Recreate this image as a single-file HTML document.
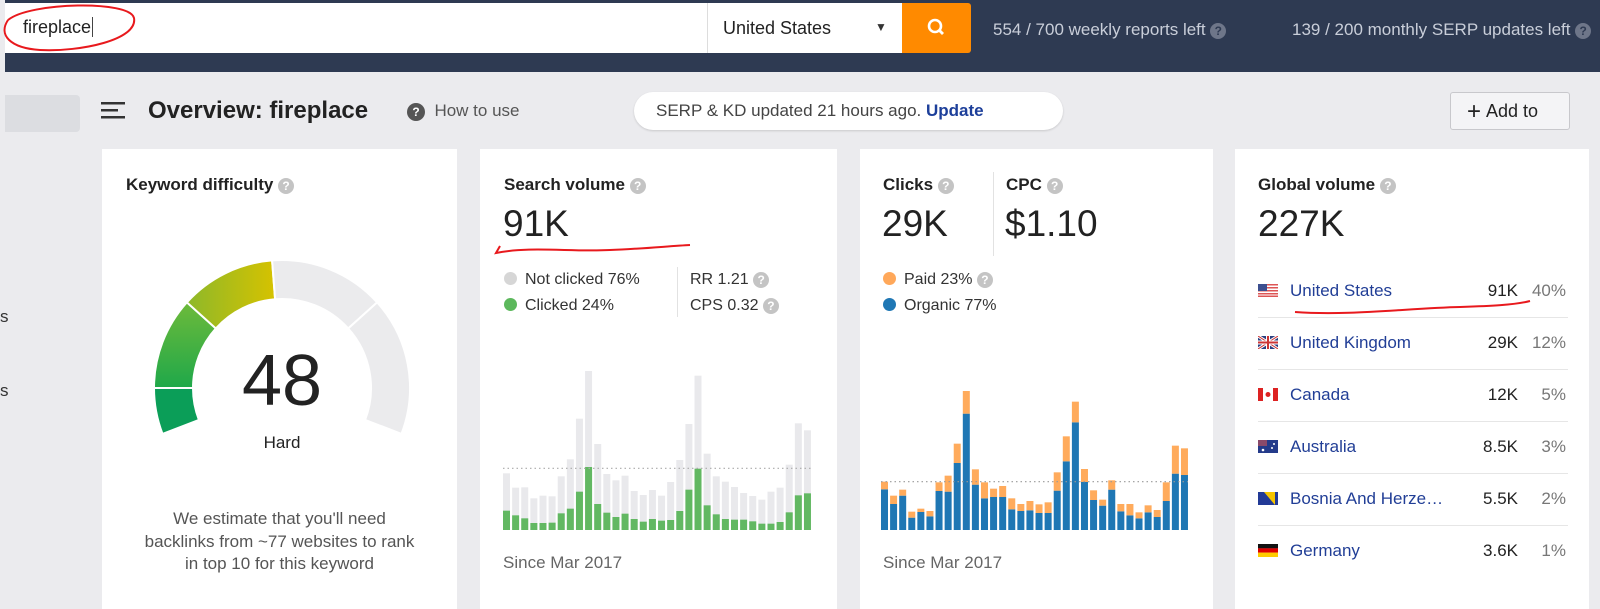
<!DOCTYPE html>
<html><head><meta charset="utf-8"><style>
*{margin:0;padding:0;box-sizing:border-box}
body{width:1600px;height:593px;overflow:hidden;background:#ebebee;font-family:"Liberation Sans",Arial,sans-serif;position:relative;color:#222}
.abs{position:absolute}
.q{display:inline-block;width:16px;height:16px;border-radius:50%;background:#c4c4c4;color:#fff;font-size:12px;font-weight:bold;text-align:center;line-height:16px;vertical-align:middle}
.card{position:absolute;top:149px;height:460px;background:#fff}
.title{position:absolute;font-size:17px;font-weight:bold;color:#222;top:175px}
.big{position:absolute;font-size:37px;color:#222;top:203px}
.leg{position:absolute;font-size:16px;color:#333}
.dot{display:inline-block;width:13px;height:13px;border-radius:50%;margin-right:8px;vertical-align:-1px}
.row{position:absolute;left:1258px;width:310px;height:52px;font-size:17px}
.row .nm{position:absolute;left:32px;top:0;color:#213e96}
.row .v{position:absolute;right:50px;top:0;color:#222}
.row .p{position:absolute;right:2px;top:0;color:#777}
.row .fl{position:absolute;left:0;top:3px;width:20px;height:13px}
.sep{position:absolute;left:1258px;width:310px;height:1px;background:#e6e6e6}
</style></head><body>
<div class="abs" style="left:5px;top:0;width:1595px;height:72px;background:#2e3a52"></div>
<div class="abs" style="left:5px;top:3px;width:702px;height:50px;background:#fff"><span style="position:absolute;left:18px;top:14px;font-size:18px;color:#222">fireplace<span style="border-left:1px solid #444;margin-left:1px"></span></span></div>
<div class="abs" style="left:707px;top:3px;width:195px;height:50px;background:#fff;border-left:1px solid #ddd"><span style="position:absolute;left:15px;top:15px;font-size:18px;color:#222">United States</span><span style="position:absolute;left:167px;top:17px;font-size:12px;color:#333">▼</span></div>
<div class="abs" style="left:902px;top:3px;width:69px;height:50px;background:#ff8a00;border-radius:0 3px 3px 0"><svg width="69" height="50"><circle cx="33" cy="23" r="6" stroke="#fff" stroke-width="2.6" fill="none"/><line x1="37.5" y1="27.5" x2="41" y2="31" stroke="#fff" stroke-width="2.8"/></svg></div>
<div class="abs" style="left:993px;top:20px;font-size:17px;color:#c9ced9">554 / 700 weekly reports left <span class="q" style="background:#6e7689;color:#2e3a52">?</span></div>
<div class="abs" style="left:1292px;top:20px;font-size:17px;color:#c9ced9">139 / 200 monthly SERP updates left <span class="q" style="background:#6e7689;color:#2e3a52">?</span></div>
<svg class="abs" style="left:0;top:0" width="150" height="60"><path d="M8 20 C 30 2, 130 0, 134 18 C 138 40, 80 52, 40 50 C 10 48, -2 35, 8 20" stroke="#e8191d" stroke-width="2" fill="none"/></svg>

<div class="abs" style="left:5px;top:95px;width:75px;height:37px;background:#dcdde1;border-radius:0 4px 4px 0"></div>
<div class="abs" style="left:0;top:307px;font-size:17px;color:#333">s</div>
<div class="abs" style="left:0;top:381px;font-size:17px;color:#333">s</div>
<svg class="abs" style="left:101px;top:102px" width="24" height="18"><rect x="0" y="0" width="24" height="2.5" fill="#333"/><rect x="0" y="7" width="17" height="2.5" fill="#333"/><rect x="0" y="14" width="24" height="2.5" fill="#333"/></svg>
<div class="abs" style="left:148px;top:97px;font-size:24px;font-weight:bold;color:#222">Overview: fireplace</div>
<div class="abs" style="left:407px;top:101px;font-size:17px;color:#555"><span class="q" style="background:#555;width:18px;height:18px;line-height:18px">?</span>&nbsp; How to use</div>
<div class="abs" style="left:634px;top:92px;width:429px;height:38px;background:#fff;border-radius:19px;box-shadow:0 1px 2px rgba(0,0,0,.15);font-size:17px;color:#444;padding:9px 0 0 22px">SERP &amp; KD updated 21 hours ago. <b style="color:#1d3f9a">Update</b></div>
<div class="abs" style="left:1450px;top:92px;width:120px;height:38px;background:#f4f4f6;border:1px solid #c8c8cc;border-radius:3px;font-size:18px;color:#222;padding:8px 0 0 16px"><span style="font-size:24px;line-height:18px;vertical-align:-2px">+</span>&nbsp;Add to</div>

<div class="card" style="left:102px;width:355px"></div>
<div class="card" style="left:480px;width:357px"></div>
<div class="card" style="left:860px;width:353px"></div>
<div class="card" style="left:1235px;width:354px"></div>

<div class="title" style="left:126px">Keyword difficulty <span class="q">?</span></div>
<svg class="abs" id="gauge" style="left:0;top:0" width="460" height="593"></svg>
<div class="abs" style="left:202px;top:340px;width:160px;text-align:center;font-size:72px;color:#222">48</div>
<div class="abs" style="left:202px;top:433px;width:160px;text-align:center;font-size:17px;color:#222">Hard</div>
<div class="abs" style="left:112px;top:508px;width:335px;text-align:center;font-size:17px;line-height:22.5px;color:#555">We estimate that you'll need<br>backlinks from ~77 websites to rank<br>in top 10 for this keyword</div>

<div class="title" style="left:504px">Search volume <span class="q">?</span></div>
<div class="big" style="left:503px">91K</div>
<svg class="abs" style="left:490px;top:238px" width="210" height="20"><path d="M10 8 L6 15 C 40 8, 80 14, 120 12 C 150 11, 180 8, 200 7" stroke="#e8191d" stroke-width="2" fill="none"/></svg>
<div class="leg" style="left:504px;top:271px"><span class="dot" style="background:#d6d6d6"></span>Not clicked 76%</div>
<div class="leg" style="left:504px;top:297px"><span class="dot" style="background:#5cb85c"></span>Clicked 24%</div>
<div class="abs" style="left:677px;top:267px;width:1px;height:50px;background:#e2e2e2"></div>
<div class="leg" style="left:690px;top:271px">RR 1.21 <span class="q">?</span></div>
<div class="leg" style="left:690px;top:297px">CPS 0.32 <span class="q">?</span></div>
<svg class="abs" id="svchart" style="left:495px;top:360px" width="330" height="175"></svg>
<div class="abs" style="left:503px;top:553px;font-size:17px;color:#666">Since Mar 2017</div>

<div class="title" style="left:883px">Clicks <span class="q">?</span></div>
<div class="abs" style="left:993px;top:172px;width:1px;height:84px;background:#e2e2e2"></div>
<div class="title" style="left:1006px">CPC <span class="q">?</span></div>
<div class="big" style="left:882px">29K</div>
<div class="big" style="left:1005px">$1.10</div>
<div class="leg" style="left:883px;top:271px"><span class="dot" style="background:#ffa85a"></span>Paid 23% <span class="q">?</span></div>
<div class="leg" style="left:883px;top:297px"><span class="dot" style="background:#1f77b4"></span>Organic 77%</div>
<svg class="abs" id="clchart" style="left:873px;top:380px" width="330" height="155"></svg>
<div class="abs" style="left:883px;top:553px;font-size:17px;color:#666">Since Mar 2017</div>

<div class="title" style="left:1258px">Global volume <span class="q">?</span></div>
<div class="big" style="left:1258px">227K</div>

<div class="row" style="top:281px"><svg class="fl" viewBox="0 0 20 13"><rect width="20" height="13" fill="#fff"/><g fill="#d55"><rect y="0" width="20" height="1.5"/><rect y="3" width="20" height="1.5"/><rect y="6" width="20" height="1.5"/><rect y="9" width="20" height="1.5"/><rect y="11.5" width="20" height="1.5"/></g><rect width="9" height="7" fill="#3c4f8f"/></svg><span class="nm">United States</span><span class="v">91K</span><span class="p">40%</span></div>
<svg class="abs" style="left:1290px;top:298px" width="250" height="20"><path d="M5 14 C 60 18, 120 10, 170 9 C 200 8, 225 7, 240 3" stroke="#e8191d" stroke-width="2" fill="none"/></svg>
<div class="sep" style="top:317px"></div>
<div class="row" style="top:333px"><svg class="fl" viewBox="0 0 20 13"><rect width="20" height="13" fill="#2a3f80"/><path d="M0 0L20 13M20 0L0 13" stroke="#fff" stroke-width="3"/><path d="M0 0L20 13M20 0L0 13" stroke="#c33" stroke-width="1"/><path d="M10 0V13M0 6.5H20" stroke="#fff" stroke-width="4"/><path d="M10 0V13M0 6.5H20" stroke="#c33" stroke-width="2"/></svg><span class="nm">United Kingdom</span><span class="v">29K</span><span class="p">12%</span></div>
<div class="sep" style="top:369px"></div>
<div class="row" style="top:385px"><svg class="fl" viewBox="0 0 20 13"><rect width="20" height="13" fill="#fff"/><rect width="5" height="13" fill="#d22"/><rect x="15" width="5" height="13" fill="#d22"/><circle cx="10" cy="6.5" r="2.5" fill="#d22"/></svg><span class="nm">Canada</span><span class="v">12K</span><span class="p">5%</span></div>
<div class="sep" style="top:421px"></div>
<div class="row" style="top:437px"><svg class="fl" viewBox="0 0 20 13"><rect width="20" height="13" fill="#243b8a"/><rect width="9" height="6" fill="#8a4a6a"/><circle cx="14" cy="8" r="1" fill="#fff"/><circle cx="16" cy="4" r="1" fill="#fff"/><circle cx="5" cy="10" r="1.3" fill="#fff"/></svg><span class="nm">Australia</span><span class="v">8.5K</span><span class="p">3%</span></div>
<div class="sep" style="top:473px"></div>
<div class="row" style="top:489px"><svg class="fl" viewBox="0 0 20 13"><rect width="20" height="13" fill="#223a96"/><path d="M6 0H17V13Z" fill="#f5c400"/></svg><span class="nm">Bosnia And Herze…</span><span class="v">5.5K</span><span class="p">2%</span></div>
<div class="sep" style="top:525px"></div>
<div class="row" style="top:541px"><svg class="fl" viewBox="0 0 20 13"><rect width="20" height="4.4" fill="#111"/><rect y="4.3" width="20" height="4.4" fill="#d00"/><rect y="8.6" width="20" height="4.4" fill="#fc0"/></svg><span class="nm">Germany</span><span class="v">3.6K</span><span class="p">1%</span></div>

<script>
var NS='http://www.w3.org/2000/svg';
// ---- Search volume data (relative units) ----
var svTotal=[170,127,128,95,103,101,161,212,334,477,258,168,149,163,117,105,120,103,144,210,318,463,229,161,145,129,111,102,91,115,127,196,320,299];
var svClicked=[58,44,35,21,21,22,50,64,115,189,78,52,39,49,33,25,33,28,30,57,121,184,74,47,33,31,31,26,19,19,24,53,104,110];
var svAverage=[185];
// ---- Clicks data (relative units) ----
var clOrganic=[122,78,103,37,54,41,117,115,201,349,136,95,99,99,62,57,59,51,51,118,206,323,144,90,73,121,56,44,35,53,39,87,169,165];
var clPaid=[23,25,18,18,10,16,26,48,58,68,46,48,25,33,33,21,28,26,32,55,75,62,39,29,18,28,22,34,18,21,21,56,84,80];
var clAverage=[145];
// ---- Difficulty ----
var kdScore=[48];

function mk(tag,attrs,parent){var e=document.createElementNS(NS,tag);for(var k in attrs)e.setAttribute(k,attrs[k]);parent.appendChild(e);return e;}

(function(){
  var svg=document.getElementById('svchart');
  var base=170, x0=8, pitch=9.12, w=7, k=1/3;
  function xs(i){return x0+i*pitch;} function ys(v){return base-v*k;}
  for(var i=0;i<svTotal.length;i++){
    var r=mk('rect',{x:xs(i),y:ys(svTotal[i]),width:w,height:svTotal[i]*k,fill:'#e9e9ec'},svg);
    
    
    var g=mk('rect',{x:xs(i),y:ys(svClicked[i]),width:w,height:svClicked[i]*k,fill:'#62b862'},svg);
    
    
  }
  var l=mk('line',{x1:x0,x2:xs(svTotal.length-1)+w,y1:ys(svAverage[0]),y2:ys(svAverage[0]),stroke:'#aaa','stroke-width':1.2,'stroke-dasharray':'1.5 3'},svg);
  
  
})();

(function(){
  var svg=document.getElementById('clchart');
  var base=150, x0=8, pitch=9.09, w=7, k=1/3;
  function xs(i){return x0+i*pitch;} function ys(v){return base-v*k;}
  for(var i=0;i<clOrganic.length;i++){
    var b=mk('rect',{x:xs(i),y:ys(clOrganic[i]),width:w,height:clOrganic[i]*k,fill:'#1f77b4'},svg);
    
    
    var o=mk('rect',{x:xs(i),y:ys(clOrganic[i]+clPaid[i]),width:w,height:clPaid[i]*k,fill:'#ffab5c'},svg);
    
    
  }
  var l=mk('line',{x1:x0,x2:xs(clOrganic.length-1)+w,y1:ys(clAverage[0]),y2:ys(clAverage[0]),stroke:'#999','stroke-width':1.2,'stroke-dasharray':'1.5 3'},svg);
  
  
})();

(function(){
  var svg=document.getElementById('gauge');
  var cx=282, cy=388, R=128, r=89, start=201, sweep=222;
  function pt(a,rad){var t=a*Math.PI/180;return [cx+rad*Math.cos(t), cy-rad*Math.sin(t)];}
  function arc(a0,a1,fill,name){
    var p1=pt(a0,R),p2=pt(a1,R),p3=pt(a1,r),p4=pt(a0,r);var large=(a0-a1)>180?1:0;
    var d='M'+p1+' A'+R+' '+R+' 0 '+large+' 1 '+p2+' L'+p3+' A'+r+' '+r+' 0 '+large+' 0 '+p4+' Z';
    var e=mk('path',{d:d,fill:fill,stroke:'#fff','stroke-width':2},svg);
    
    
  }
  var defs=mk('defs',{},svg);
  var lg=mk('linearGradient',{id:'g1',x1:0,y1:1,x2:0,y2:0},defs);
  mk('stop',{offset:'0','stop-color':'#1fa84a'},lg);mk('stop',{offset:'1','stop-color':'#6dba3a'},lg);
  var lg2=mk('linearGradient',{id:'g2',x1:0,y1:0,x2:1,y2:0},defs);
  mk('stop',{offset:'0','stop-color':'#8db82a'},lg2);mk('stop',{offset:'1','stop-color':'#d6c200'},lg2);
  var endA=start-sweep*kdScore[0]/100;
  arc(201,180,'#0b9e58','gauge-segment-1');
  arc(180,138,'url(#g1)','gauge-segment-2');
  arc(138,endA,'url(#g2)','gauge-segment-3');
  arc(endA,42,'#ebebed','gauge-segment-4');
  arc(42,-21,'#ebebed','gauge-segment-5');
})();
</script>
</body></html>
